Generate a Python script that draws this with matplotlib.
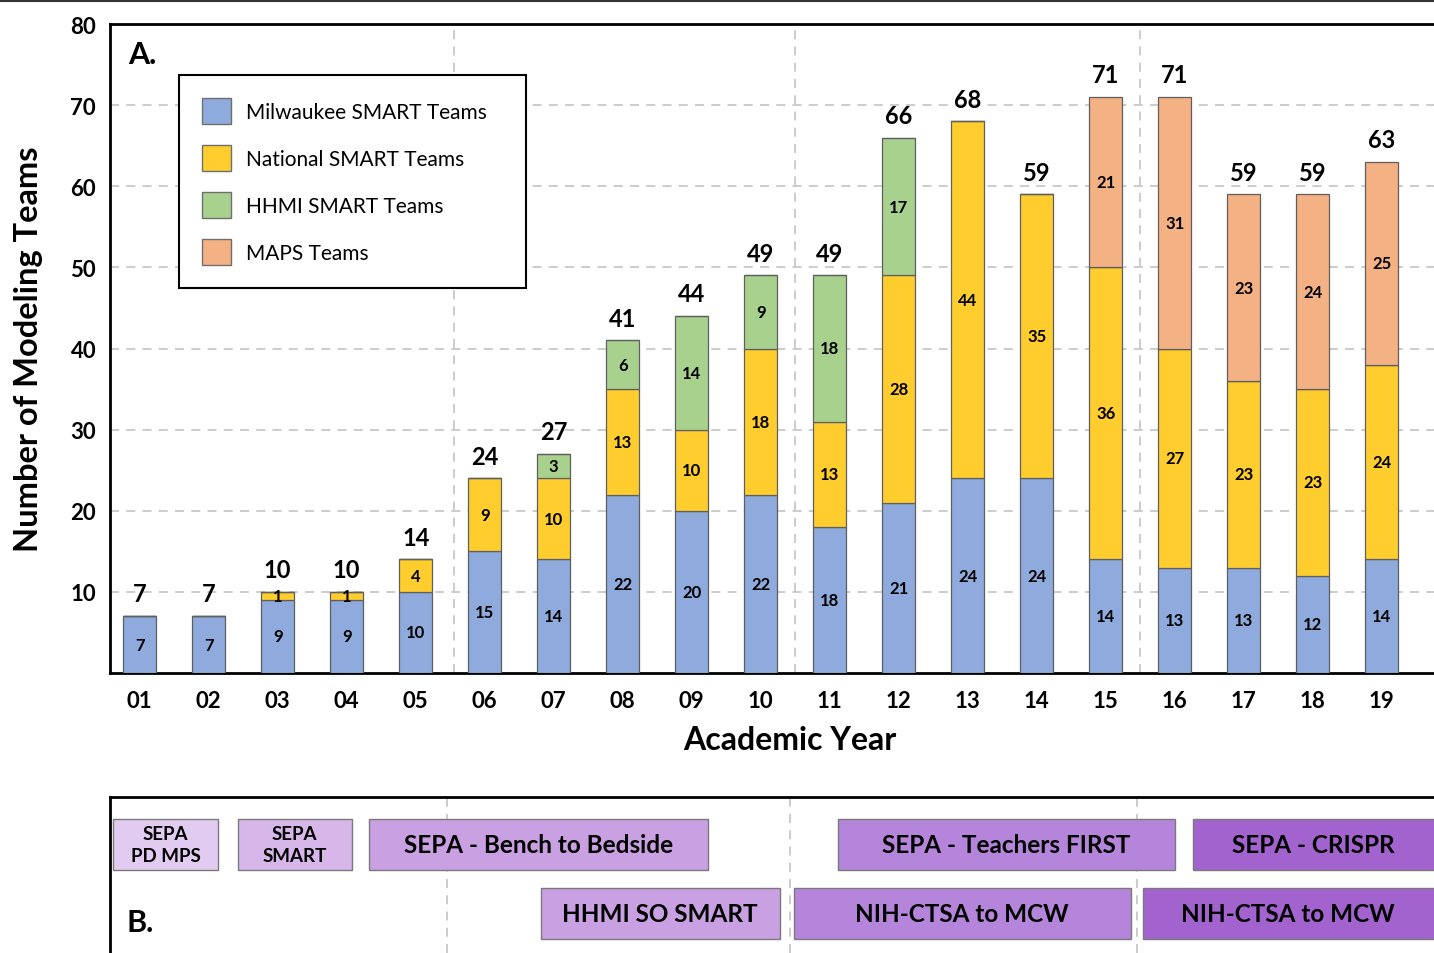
import numpy as np
import matplotlib
matplotlib.use("Agg")
import matplotlib.pyplot as plt
from matplotlib.patches import Patch
from matplotlib.lines import Line2D

plt.rcParams['font.family'] = ['Lato', 'DejaVu Sans']

# data
years = ['01', '02', '03', '04', '05', '06', '07', '08', '09', '10',
         '11', '12', '13', '14', '15', '16', '17', '18', '19']
milwaukee = [7, 7, 9, 9, 10, 15, 14, 22, 20, 22, 18, 21, 24, 24, 14, 13, 13, 12, 14]
national = [0, 0, 1, 1, 4, 9, 10, 13, 10, 18, 13, 28, 44, 35, 36, 27, 23, 23, 24]
hhmi = [0, 0, 0, 0, 0, 0, 3, 6, 14, 9, 18, 17, 0, 0, 0, 0, 0, 0, 0]
maps = [0, 0, 0, 0, 0, 0, 0, 0, 0, 0, 0, 0, 0, 0, 21, 31, 23, 24, 25]
series_names = ['Milwaukee SMART Teams', 'National SMART Teams',
                'HHMI SMART Teams', 'MAPS Teams']
series_colors = ['#8faadc', '#ffcd2e', '#a9d18e', '#f4b183']

# grants (start / end in year-index units, row 0 = top row)
grant_names = ['SEPA\nPD MPS', 'SEPA\nSMART', 'SEPA - Bench to Bedside', 'HHMI SO SMART',
               'SEPA - Teachers FIRST', 'NIH-CTSA to MCW', 'SEPA - CRISPR', 'NIH-CTSA to MCW']
grant_start = [-0.39, 1.42, 3.32, 5.81, 10.12, 9.48, 15.26, 14.54]
grant_end = [1.14, 3.07, 8.23, 9.28, 15.0, 14.36, 19.6, 19.6]
grant_row = [0, 0, 0, 1, 0, 1, 0, 1]
grant_colors = ['#e2cbf0', '#d7b7ea', '#c9a0e1', '#c9a0e1',
                '#b585db', '#b585db', '#a263cf', '#a263cf']

W, H = 1434, 954
fig = plt.figure(figsize=(W / 100, H / 100), dpi=100)

xl, xr = -0.43, 19.28
ax = fig.add_axes([110 / W, 1 - 674 / H, 1360 / W, (674 - 25) / H])
x = np.arange(len(years))
bottom = np.zeros(len(years))
for vals, name, col in zip([milwaukee, national, hhmi, maps], series_names, series_colors):
    vals = np.array(vals, dtype=float)
    ax.bar(x, vals, 0.48, bottom=bottom, color=col, edgecolor='#5f5f5f',
           linewidth=0.9, zorder=3, label=name)
    for xi, v, b in zip(x, vals, bottom):
        if v > 0:
            ax.text(xi, b + v / 2, str(int(v)), ha='center', va='center',
                    fontsize=12, fontweight='bold', zorder=4)
    bottom += vals

for xi, tot in zip(x, bottom):
    ax.annotate(str(int(tot)), (xi, tot), xytext=(0, 16), textcoords='offset points',
                ha='center', va='center', fontsize=17, fontweight='bold')

ax.set_xlim(xl, xr)
ax.set_ylim(0, 80)
ax.set_yticks(range(10, 90, 10))
ax.set_xticks(x)
ax.set_xticklabels(years)
ax.tick_params(length=0, labelsize=16)
ax.tick_params(axis='x', pad=12)
ax.tick_params(axis='y', pad=10)
for lab in ax.get_xticklabels() + ax.get_yticklabels():
    lab.set_fontweight('bold')
ax.yaxis.grid(True, linestyle=(0, (5, 4)), color='#c8c8c8', linewidth=1.3, zorder=0)
for v in [4.55, 9.5, 14.5]:
    ax.axvline(v, linestyle=(0, (5, 4)), color='#c8c8c8', linewidth=1.3, zorder=0)
for s in ['left', 'bottom', 'top']:
    ax.spines[s].set_linewidth(2)
ax.spines['right'].set_visible(False)
ax.set_ylabel('Number of Modeling Teams', fontsize=23.5, fontweight='bold', labelpad=20)
ax.set_xlabel('Academic Year', fontsize=23, fontweight='bold', labelpad=10)
ax.text(0.013, 0.976, 'A.', transform=ax.transAxes, fontsize=22, fontweight='bold',
        va='top', ha='left')

handles = [Patch(facecolor=c, edgecolor='#6f6f6f') for c in series_colors]
leg = ax.legend(handles, series_names, loc='upper left',
                bbox_to_anchor=(69 / 1360, 598 / 649 - 0.01, 347 / 1360, 0.01), mode='expand',
                borderaxespad=0, fontsize=15, frameon=True, fancybox=False,
                edgecolor='black', framealpha=1, borderpad=1.1, labelspacing=1.0,
                handlelength=1.4, handleheight=1.55, handletextpad=0.72)
leg.get_frame().set_linewidth(1.5)
leg.set_zorder(5)

# panel B
bx = fig.add_axes([110 / W, 0, 1360 / W, (H - 798) / H])
bx.set_xlim(xl, xr)
bx.set_ylim(0, 156)
row_y = [83, 14]
row_h = 51
for name, s, e, r, c in zip(grant_names, grant_start, grant_end, grant_row, grant_colors):
    bx.barh(row_y[r] + row_h / 2, e - s, height=row_h, left=s, color=c,
            edgecolor='#7a7a7a', linewidth=1, zorder=3)
    fs = 13.5 if '\n' in name else 17.5
    bx.text((s + min(e, 18.75)) / 2, row_y[r] + row_h / 2, name, ha='center', va='center',
            fontsize=fs, fontweight='bold', zorder=4, linespacing=1.3)
for v in [4.45, 9.42, 14.45]:
    bx.axvline(v, linestyle=(0, (5, 4)), color='#c8c8c8', linewidth=1.3, zorder=0)
bx.text(0.012, 0.2, 'B.', transform=bx.transAxes, fontsize=22, fontweight='bold',
        va='center', ha='left')
bx.set_xticks([])
bx.set_yticks([])
for s in ['left', 'top']:
    bx.spines[s].set_linewidth(2)
bx.spines['right'].set_visible(False)
bx.spines['bottom'].set_visible(False)

fig.add_artist(Line2D([0, 1], [1 - 2 / H, 1 - 2 / H], color='#333333', linewidth=1.5))

fig.savefig('out.png', dpi=100)
